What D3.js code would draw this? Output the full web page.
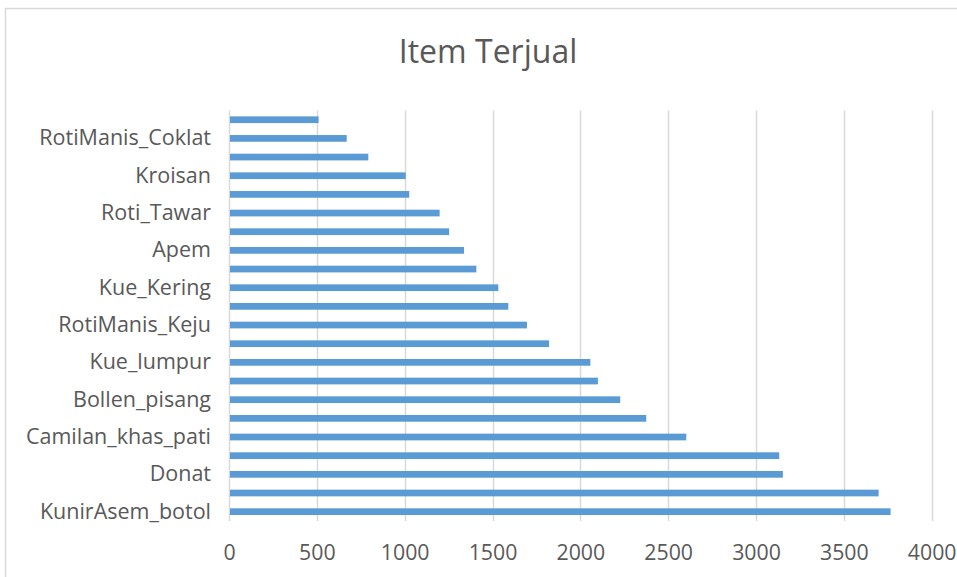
<!DOCTYPE html>
<html>
<head>
<meta charset="utf-8">
<script src="https://cdn.jsdelivr.net/npm/d3@7"></script>
<style>
  html, body { margin: 0; padding: 0; background: #fff; }
  svg { display: block; }
  text { font-family: "Open Sans", "Noto Sans", sans-serif; }
</style>
</head>
<body>
<svg id="chart" width="957" height="577"></svg>
<script>
// Categories listed bottom-to-top (Excel order). Only every other one is labelled in the original.
const categories = [
  "KunirAsem_botol", "(item 2)", "Donat", "(item 4)", "Camilan_khas_pati", "(item 6)",
  "Bollen_pisang", "(item 8)", "Kue_lumpur", "(item 10)", "RotiManis_Keju", "(item 12)",
  "Kue_Kering", "(item 14)", "Apem", "(item 16)", "Roti_Tawar", "(item 18)",
  "Kroisan", "(item 20)", "RotiManis_Coklat", "(item 22)"
];
const values = [
  3766, 3698, 3153, 3132, 2603, 2375,
  2227, 2100, 2057, 1822, 1696, 1590,
  1533, 1408, 1338, 1253, 1199, 1026,
  1006, 793, 670, 510
];
const labelledIndex = categories.map((c, i) => i % 2 === 0);
const xTicks = [0, 500, 1000, 1500, 2000, 2500, 3000, 3500, 4000];
const title = "Item Terjual";

const svg = d3.select("#chart");
const W = 957, H = 577;

// chart area border
svg.append("rect")
  .attr("x", 5.5).attr("y", 8.5)
  .attr("width", W + 20).attr("height", H + 20)
  .attr("fill", "#fff")
  .attr("stroke", "#d9d9d9")
  .attr("stroke-width", 1.5);

const plot = { left: 229, right: 931.7, top: 110.4, bottom: 521 };

const x = d3.scaleLinear().domain([0, 4000]).range([plot.left, plot.right]);
const y = d3.scaleBand()
  .domain(categories.slice().reverse())
  .range([plot.top, plot.bottom])
  .paddingInner(0.64)
  .paddingOuter(0.32);

// gridlines
svg.append("g")
  .selectAll("line")
  .data(xTicks)
  .join("line")
  .attr("x1", d => Math.round(x(d)) + 0.5)
  .attr("x2", d => Math.round(x(d)) + 0.5)
  .attr("y1", plot.top)
  .attr("y2", plot.bottom)
  .attr("stroke", "#d9d9d9")
  .attr("stroke-width", 1.5);

// bars
svg.append("g")
  .selectAll("rect")
  .data(categories.map((c, i) => ({ c, v: values[i] })))
  .join("rect")
  .attr("x", x(0) + 1)
  .attr("y", d => y(d.c))
  .attr("width", d => x(d.v) - x(0) - 1)
  .attr("height", y.bandwidth())
  .attr("fill", "#5b9bd5");

// x axis (tick labels only)
const xAxis = d3.axisBottom(x).tickValues(xTicks).tickSize(0).tickPadding(0).tickFormat(d3.format("d"));
const gx = svg.append("g")
  .attr("transform", `translate(0,${plot.bottom})`)
  .call(xAxis);
gx.select(".domain").remove();
gx.selectAll("text")
  .attr("dy", null)
  .attr("y", 38.5)
  .attr("fill", "#595959")
  .style("font-size", "21.3px")
  .style("font-family", "'Open Sans', sans-serif");

// y axis labels
const yAxis = d3.axisLeft(y).tickSize(0).tickPadding(18)
  .tickFormat((d) => labelledIndex[categories.indexOf(d)] ? d : "");
const gy = svg.append("g")
  .attr("transform", `translate(${plot.left},0)`)
  .call(yAxis);
gy.select(".domain").remove();
gy.selectAll("text")
  .attr("fill", "#595959")
  .style("font-size", "21.5px")
  .style("font-family", "'Open Sans', sans-serif");

// title
svg.append("text")
  .attr("x", 488)
  .attr("y", 63)
  .attr("text-anchor", "middle")
  .attr("fill", "#595959")
  .style("font-size", "32px")
  .style("font-family", "'Open Sans', sans-serif")
  .text(title);
</script>
</body>
</html>
